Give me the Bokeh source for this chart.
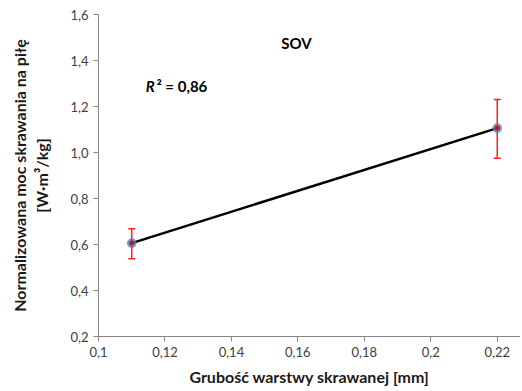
import numpy as np
from bokeh.plotting import figure
from bokeh.models import Range1d, FixedTicker, Whisker, ColumnDataSource, TeeHead
from bokeh.core.properties import value
from bokeh.embed import file_html
from bokeh.resources import INLINE

# data
thickness = [0.11, 0.22]
power = [0.606, 1.106]
err_low = [0.538, 0.975]
err_high = [0.668, 1.230]

x_ticks = [0.1, 0.12, 0.14, 0.16, 0.18, 0.2, 0.22]
x_tick_labels = ["0,1", "0,12", "0,14", "0,16", "0,18", "0,2", "0,22"]
y_ticks = [0.2, 0.4, 0.6, 0.8, 1.0, 1.2, 1.4, 1.6]
y_tick_labels = ["0,2", "0,4", "0,6", "0,8", "1,0", "1,2", "1,4", "1,6"]

title_text = "SOV"
r2_text = "² = 0,86"

FONT = "Lato"

p = figure(width=520, height=390, output_backend="svg", toolbar_location=None,
           x_range=Range1d(0.1, 0.2270), y_range=Range1d(0.2, 1.6),
           min_border_left=98, min_border_right=0, min_border_top=14, min_border_bottom=54)
p.outline_line_color = None
p.xgrid.visible = False
p.ygrid.visible = False
p.background_fill_color = "white"

for ax, ticks, labels in ((p.xaxis[0], x_ticks, x_tick_labels), (p.yaxis[0], y_ticks, y_tick_labels)):
    ax.ticker = FixedTicker(ticks=ticks)
    ax.major_label_overrides = {t: l for t, l in zip(ticks, labels)}
    ax.minor_tick_line_color = None
    ax.major_tick_in = 0
    ax.major_tick_out = 5
    ax.axis_line_color = "#868686"
    ax.major_tick_line_color = "#868686"
    ax.major_label_text_font = FONT
    ax.major_label_text_font_size = "13px"
    ax.major_label_text_color = "#404040"
    ax.axis_label_text_font = FONT
    ax.axis_label_text_font_size = "16px"
    ax.axis_label_text_font_style = "bold"
    ax.axis_label_text_color = "#1a1a1a"

p.xaxis.axis_label = "Grubość warstwy skrawanej [mm]"
p.xaxis.axis_label_standoff = 7
p.yaxis.axis_label = "Normalizowana moc skrawania na piłę\n[W·m³/kg]"
p.yaxis.axis_label_standoff = 16

src = ColumnDataSource(dict(x=thickness, y=power, lo=err_low, hi=err_high))

p.line("x", "y", source=src, line_color="black", line_width=2.5)
w = Whisker(base="x", lower="lo", upper="hi", source=src, line_color="#ff2020", line_width=1.5,
            upper_head=TeeHead(size=7, line_color="#ff2020", line_width=1.5),
            lower_head=TeeHead(size=7, line_color="#ff2020", line_width=1.5))
p.add_layout(w)
p.scatter("x", "y", source=src, size=9, fill_color="#4f81bd", fill_alpha=0.8, line_color="#4f81bd", line_alpha=0.5)
p.scatter("x", "y", source=src, size=5, fill_color="#d01010", line_color=None)

p.text(x=[0.1596], y=[1.474], text=[title_text], text_font=value(FONT), text_font_size="15px",
       text_font_style="bold", text_align="center", text_baseline="middle", text_color="black")
p.text(x=[0.1142], y=[1.291], text=["R"], text_font=value(FONT), text_font_size="15px",
       text_font_style="bold italic", text_align="left", text_baseline="middle", text_color="black")
p.text(x=[0.1142], y=[1.291], text=[r2_text], text_font=value(FONT), text_font_size="15px",
       text_font_style="bold", text_align="left", text_baseline="middle", text_color="black",
       x_offset=11)

open("out.html", "w").write(file_html(p, INLINE))
